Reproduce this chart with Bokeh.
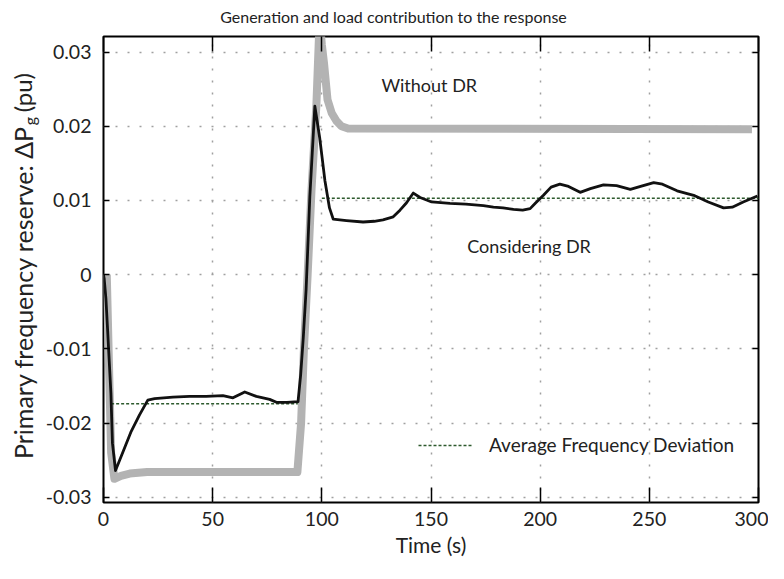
import math
from bokeh.plotting import figure
from bokeh.layouts import column, row
from bokeh.models import (FixedTicker, LinearAxis, Label, Legend, LegendItem, Range1d)
from bokeh.embed import file_html
from bokeh.resources import INLINE

# ---------------- data ----------------
time_dr = [0, 0.3, 1.1, 1.8, 2.6, 3.4, 4.1, 5.5, 8.9, 12.7, 16.5, 20.3, 23.4, 31.8, 39.4,
           47, 54.7, 59.3, 64.7, 70, 76.1, 79.2, 84, 89.1, 90.3, 91.5, 92.8, 94.5, 96.8,
           99.0, 101.4, 103.5, 105.2, 111.3, 118.9, 124, 128, 132.7, 135.8, 138.8, 141.9,
           145, 150.3, 158.7, 166, 174, 178.6, 183, 187.8, 192, 195.4, 198, 201.5, 205,
           209, 213, 218.3, 223, 229, 235, 241.3, 246, 252, 256, 262.7, 270.3, 277, 284,
           288, 293, 299.5]
reserve_dr = [0, -0.0005, -0.0032, -0.0070, -0.0115, -0.0160, -0.0227, -0.0264, -0.0239,
              -0.0211, -0.0189, -0.0169, -0.0167, -0.0165, -0.0164, -0.0164, -0.0163,
              -0.0166, -0.0158, -0.0164, -0.0168, -0.0172, -0.0172, -0.0171, -0.0135,
              -0.0085, -0.0020, 0.0105, 0.0227, 0.0185, 0.0127, 0.0090, 0.0075, 0.0073,
              0.0071, 0.0072, 0.0074, 0.0078, 0.0087, 0.0097, 0.0110, 0.0104, 0.0098,
              0.0096, 0.0095, 0.0093, 0.0091, 0.0090, 0.0088, 0.0087, 0.0089, 0.0097,
              0.0107, 0.0118, 0.0122, 0.0119, 0.0111, 0.0116, 0.0121, 0.0120, 0.0115,
              0.0119, 0.0124, 0.0122, 0.0113, 0.0107, 0.0098, 0.0090, 0.0091, 0.0098,
              0.0106]

time_nodr = [1.5, 2.5, 3.5, 5, 8, 12, 20, 88.8, 90.5, 91.8, 93.5, 95.3, 97.5, 99, 100, 101,
             102.6, 104.5, 106.7, 109, 112, 297]
reserve_nodr = [0, -0.012, -0.024, -0.0275, -0.0271, -0.0268, -0.0266, -0.0266, -0.020,
                -0.010, 0.0, 0.0116, 0.0228, 0.0345, 0.031, 0.0285, 0.0236, 0.0218, 0.0207,
                0.0200, 0.0197, 0.0196]

avg_start = [3.5, 100]
avg_end = [89, 300]
avg_level = [-0.0174, 0.0103]

x_ticks = [0, 50, 100, 150, 200, 250, 300]
y_ticks = [-0.03, -0.02, -0.01, 0.0, 0.01, 0.02, 0.03]
y_tick_labels = ["-0.03", "-0.02", "-0.01", "0", "0.01", "0.02", "0.03"]

title_text = "Generation and load contribution to the response"
x_label = "Time (s)"
y_label_main = "Primary frequency reserve:  \u0394P"
y_label_sub = "g"
y_label_unit = "(pu)"
legend_label = "Average Frequency Deviation"

FONT = "Lato"
TXT = "#222222"

W, H = 768, 563
TOP_H = 28      # title strip
LEFT_W = 40     # y-label strip


def blank(width, height, xr, yr):
    f = figure(width=width, height=height, output_backend="svg", toolbar_location=None,
               x_axis_type=None, y_axis_type=None, x_range=xr, y_range=yr,
               min_border=0, min_border_left=0, min_border_right=0,
               min_border_top=0, min_border_bottom=0)
    f.outline_line_color = None
    f.background_fill_color = "white"
    f.border_fill_color = "white"
    return f


# ---------- title strip ----------
tf = blank(W, TOP_H, Range1d(0, W), Range1d(TOP_H, 0))
tf.add_layout(Label(x=393, y=16, text=title_text, text_align="center",
                    text_baseline="middle", text_font=FONT, text_font_size="16px",
                    text_color=TXT))

# ---------- y label strip ----------
lf = blank(LEFT_W, H - TOP_H, Range1d(0, LEFT_W), Range1d(H, TOP_H))
lf.add_layout(Label(x=22, y=123, text=y_label_main, angle=math.pi / 2, text_align="right",
                    text_baseline="middle", text_font=FONT, text_font_size="25px",
                    text_color=TXT))
lf.add_layout(Label(x=29, y=130, text=y_label_sub, angle=math.pi / 2, text_align="left",
                    text_baseline="middle", text_font=FONT, text_font_size="16px",
                    text_color=TXT))
lf.add_layout(Label(x=22, y=70, text=y_label_unit, angle=math.pi / 2, text_align="right",
                    text_baseline="middle", text_font=FONT, text_font_size="24px",
                    text_color=TXT))

# ---------- main plot ----------
p = figure(width=W - LEFT_W, height=H - TOP_H, output_backend="svg", toolbar_location=None,
           x_range=Range1d(0, 300), y_range=Range1d(-0.0307, 0.0321),
           min_border_left=103 - LEFT_W, min_border_right=10,
           min_border_top=36 - TOP_H, min_border_bottom=61)
p.background_fill_color = "white"
p.border_fill_color = "white"
p.outline_line_color = "black"
p.outline_line_width = 2

xt = FixedTicker(ticks=x_ticks)
yt = FixedTicker(ticks=y_ticks)
overrides = {v: s for v, s in zip(y_ticks, y_tick_labels)}

xa = p.xaxis[0]
xa.ticker = xt
xa.axis_label = x_label
xa.axis_label_text_font = FONT
xa.axis_label_text_font_size = "21px"
xa.axis_label_text_font_style = "normal"
xa.axis_label_text_color = TXT
xa.axis_label_standoff = 3
xa.major_label_text_font = FONT
xa.major_label_text_font_size = "19.5px"
xa.major_label_text_color = TXT
xa.major_label_standoff = 9
xa.major_tick_in = 15
xa.major_tick_out = 0
xa.major_tick_line_width = 1.5
xa.minor_tick_line_color = None
xa.axis_line_color = None

ya = p.yaxis[0]
ya.ticker = yt
ya.major_label_overrides = overrides
ya.major_label_text_font = FONT
ya.major_label_text_font_size = "19.5px"
ya.major_label_text_color = TXT
ya.major_label_standoff = 12
ya.major_tick_in = 6
ya.major_tick_out = 0
ya.major_tick_line_width = 1.5
ya.minor_tick_line_color = None
ya.axis_line_color = None

top_axis = LinearAxis(ticker=xt, major_label_text_font_size="0px",
                      major_label_text_color=None, major_tick_in=15,
                      major_tick_out=0, major_tick_line_width=1.5, minor_tick_line_color=None,
                      axis_line_color=None, major_label_standoff=0)
right_axis = LinearAxis(ticker=yt, major_label_text_font_size="0px",
                        major_label_text_color=None, major_tick_in=6,
                        major_tick_out=0, major_tick_line_width=1.5, minor_tick_line_color=None,
                        axis_line_color=None, major_label_standoff=0)
p.add_layout(top_axis, "above")
p.add_layout(right_axis, "right")

for g in (p.xgrid[0], p.ygrid[0]):
    g.grid_line_color = "#a0a0a0"
    g.grid_line_dash = "2 10"
    g.grid_line_width = 1.5
p.xgrid[0].ticker = xt
p.ygrid[0].ticker = yt

# ---------------- series ----------------
p.line(time_nodr, reserve_nodr, line_color="#b3b3b3", line_width=8, line_join="round")

avg_x, avg_y = [], []
for s, e, v in zip(avg_start, avg_end, avg_level):
    if avg_x:
        avg_x.append(float("nan")); avg_y.append(float("nan"))
    avg_x += [s, e]
    avg_y += [v, v]
r_avg = p.line(avg_x, avg_y, line_color="#2d5a2d", line_width=1.6, line_dash="3 2")

p.line(time_dr, reserve_dr, line_color="#111111", line_width=2.8, line_join="round")

legend = Legend(items=[LegendItem(label=legend_label, renderers=[r_avg])],
                location=(315, 46), padding=0, margin=0, spacing=0,
                glyph_width=55, glyph_height=20, label_height=20, label_standoff=16,
                label_text_font=FONT, label_text_font_size="19px", label_text_color=TXT,
                background_fill_alpha=0, border_line_color=None)
p.add_layout(legend, "center")

p.add_layout(Label(x=127.3, y=0.0256, text="Without DR", text_align="left",
                   text_baseline="middle", text_font=FONT, text_font_size="18px",
                   text_color=TXT))
p.add_layout(Label(x=166.6, y=0.0038, text="Considering DR", text_align="left",
                   text_baseline="middle", text_font=FONT, text_font_size="18px",
                   text_color=TXT))

layout = column(tf, row(lf, p, spacing=0), spacing=0)
open("out.html", "w").write(file_html(layout, INLINE))
